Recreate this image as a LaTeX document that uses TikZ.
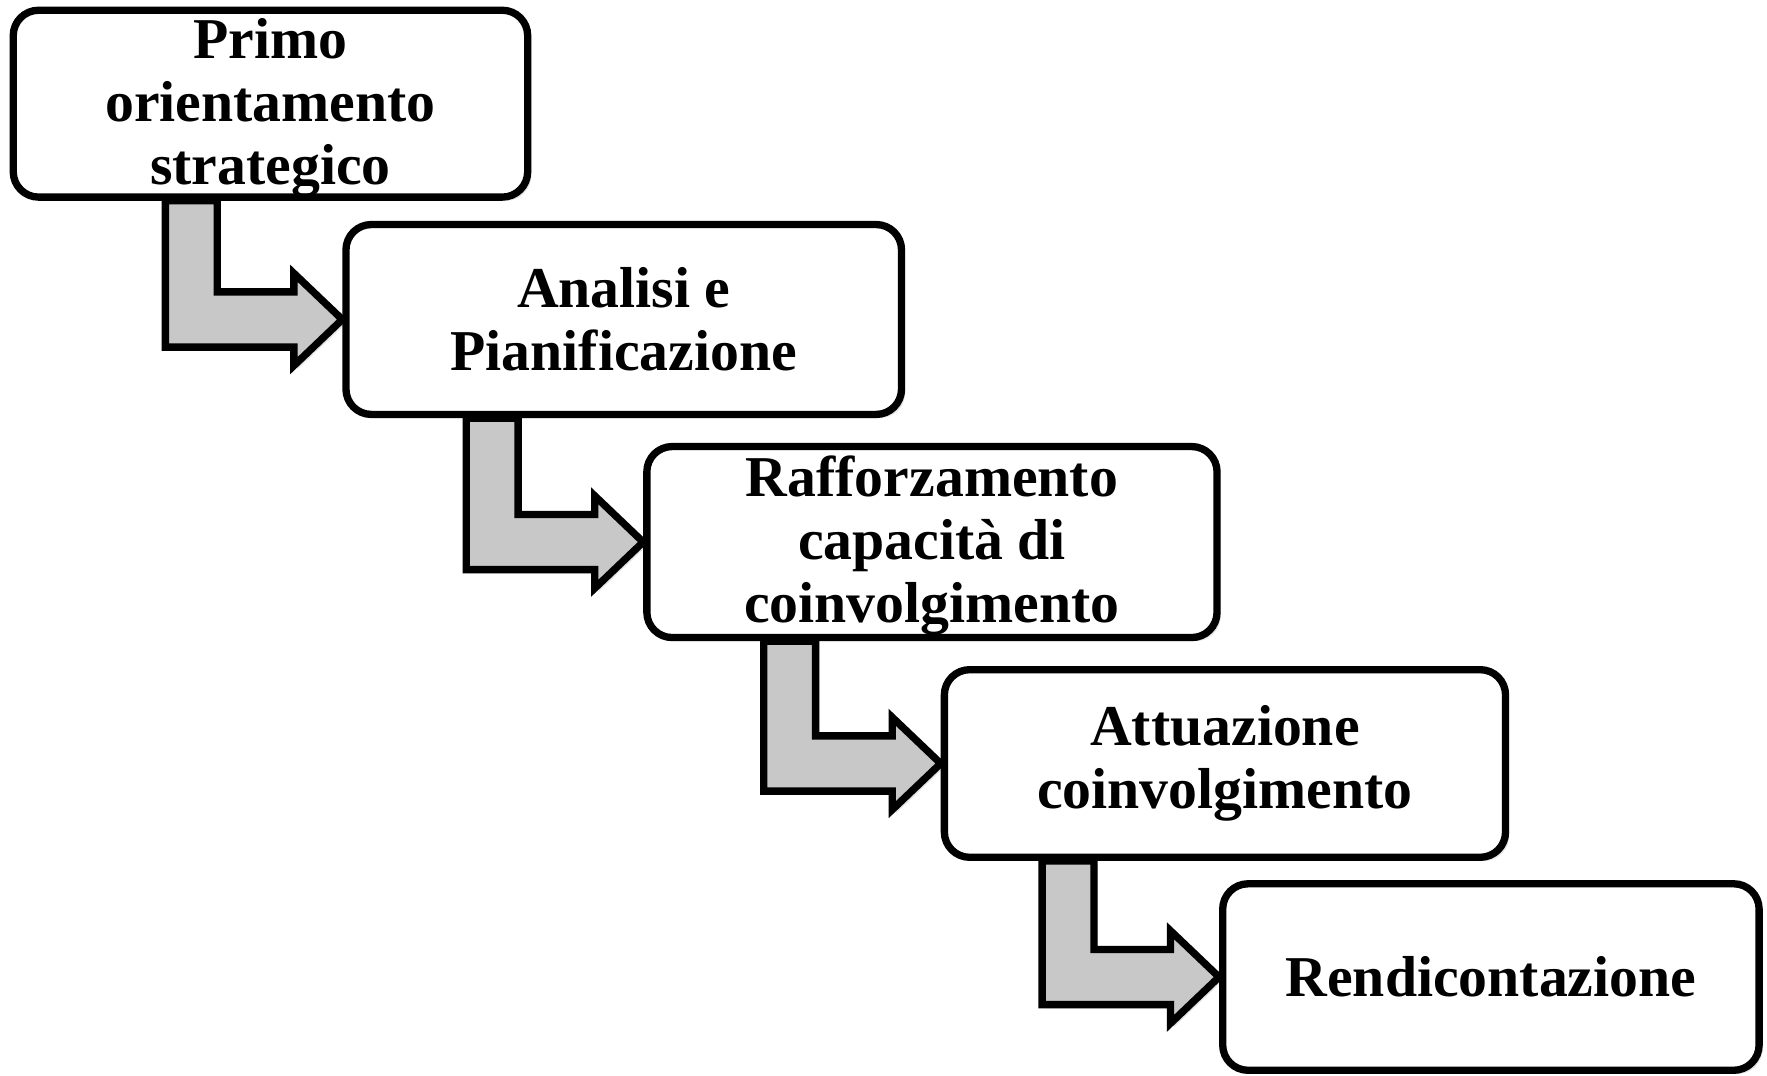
\documentclass[tikz,border=0pt]{standalone}
\usepackage{fontspec}
\setmainfont{Liberation Serif}
\usetikzlibrary{calc,shadows}
\definecolor{arrowgray}{RGB}{200,200,200}
\pgfdeclarelayer{bg}
\pgfsetlayers{bg,main}
\newcommand{\topstrut}{\rule{0pt}{17pt}}
\begin{document}
\begin{tikzpicture}[x=0.4pt,y=-0.4pt,
  softshadow/.style={drop shadow={opacity=0.22, shadow xshift=1.3pt, shadow yshift=-1.3pt}},
  stepbox/.style={draw=black, line width=2.6pt, fill=white, rounded corners=9pt,
    align=center, inner sep=0pt, softshadow,
    font=\fontsize{20.5pt}{22.4pt}\selectfont\bfseries},
  flow/.style={draw=black, line width=2.6pt, fill=arrowgray, line join=miter, softshadow}]
\useasboundingbox (0,0) rectangle (1568,954);

% boxes
\node[stepbox, minimum width=182.6pt, minimum height=65.6pt] (b1) at (240,92) {\topstrut Primo\\orientamento\\strategico};
\node[stepbox, minimum width=197.2pt, minimum height=67.4pt] (b2) at (553.5,283.5) {Analisi e\\Pianificazione};
\node[stepbox, minimum width=202.4pt, minimum height=67.8pt] (b3) at (827,481) {\topstrut Rafforzamento\\capacità di\\coinvolgimento};
\node[stepbox, minimum width=199.2pt, minimum height=66.6pt] (b4) at (1087,677.5) {Attuazione\\coinvolgimento};
\node[stepbox, minimum width=190.4pt, minimum height=66.2pt] (b5) at (1323,867) {Rendicontazione};

% bent arrows, behind the boxes
\begin{pgfonlayer}{bg}
\foreach \ua/\lb in {b1/b2, b2/b3, b3/b4, b4/b5} {
  \coordinate (T) at (\lb.west);
  \coordinate (A) at ($(T)+(-157,24.5)$);
  \coordinate (B) at ($(T)+(-111,-24.5)$);
  \draw[flow] (A |- \ua.south) -- (A) -- ($(T)+(-43,24.5)$) -- ($(T)+(-43,41)$) -- (T)
     -- ($(T)+(-43,-41)$) -- ($(T)+(-43,-24.5)$) -- (B) -- (B |- \ua.south) -- cycle;
}
\end{pgfonlayer}
\end{tikzpicture}
\end{document}
